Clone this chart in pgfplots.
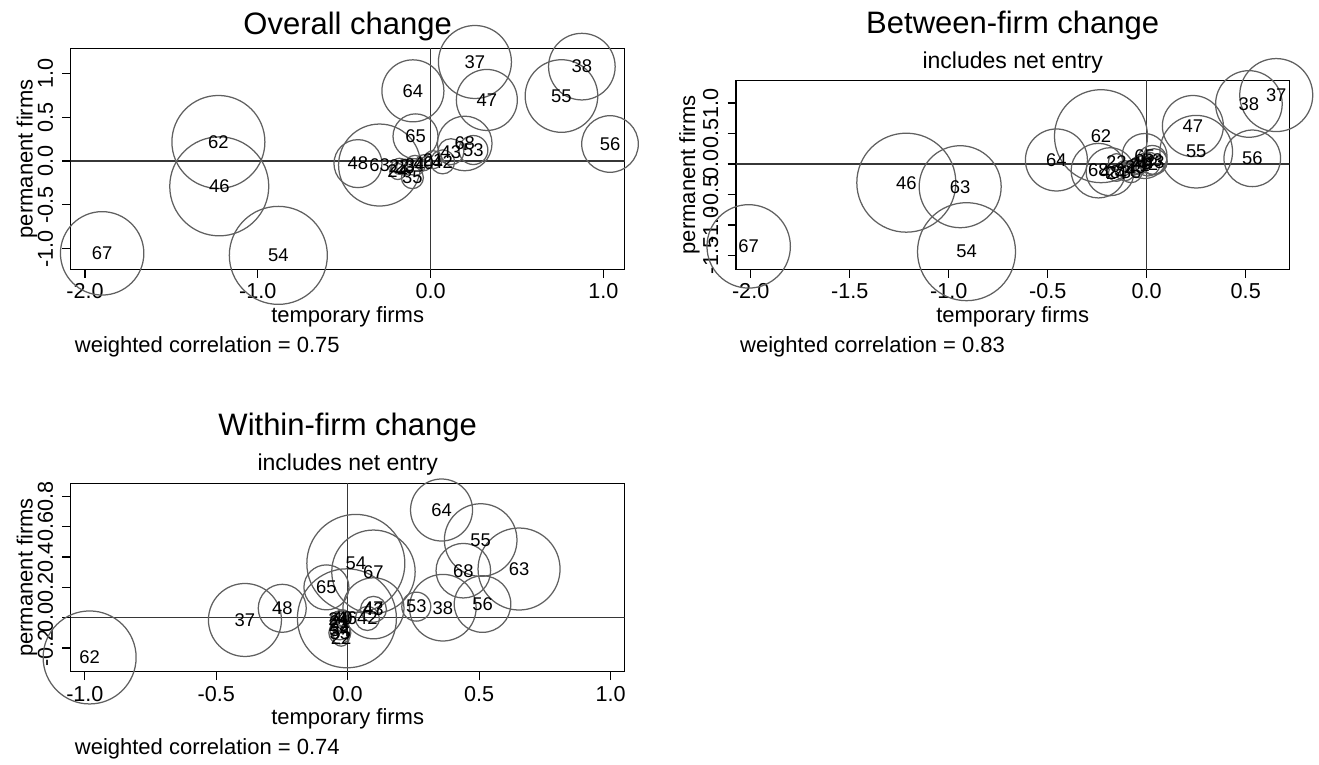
\documentclass[border=0pt]{standalone}
\usepackage{fontspec}
\setmainfont{Liberation Sans}
\usepackage{pgfplots}
\usepackage{pgfplotstable}
\pgfplotsset{compat=1.18}
\definecolor{circ}{RGB}{96,96,96}
\definecolor{zl}{RGB}{55,55,55}

% Overall change
\pgfplotstableread{
x y r lab
-1.901 -1.053 41.7 67
-1.228 0.217 46.5 62
-1.223 -0.289 49.5 46
-0.881 -1.076 49 54
-0.420 -0.030 24 48
-0.295 -0.046 41 63
-0.102 0.800 31 64
-0.087 0.281 22.5 65
0.257 1.129 36.5 37
0.326 0.696 30.5 47
0.876 1.076 33.3 38
0.758 0.741 36.3 55
1.039 0.194 28.3 56
0.198 0.200 27.3 68
0.248 0.125 14.5 53
0.118 0.106 13 43
0.015 0.015 9 21
-0.180 -0.060 8 22
-0.150 -0.070 8 23
-0.190 -0.120 8 24
-0.090 -0.050 10 34
-0.105 -0.190 11 35
-0.040 -0.020 8 40
0.070 -0.010 12 42
}\dataA

% Between-firm change
\pgfplotstableread{
x y r lab
-2.010 -1.350 41.7 67
-1.214 -0.306 49.5 46
-0.942 -0.372 41 63
-0.910 -1.437 49 54
-0.456 0.066 31 64
-0.231 0.456 46.5 62
-0.244 -0.109 27.3 68
0.233 0.623 30.5 47
0.250 0.202 36.3 55
0.516 0.984 33.3 38
0.654 1.130 36.5 37
0.533 0.093 28.3 56
-0.011 0.131 22.5 65
0.028 0.066 14.5 53
0.038 0.038 13 43
0.006 0.000 12 42
-0.025 0.010 8 40
-0.036 -0.016 9 21
-0.057 -0.044 8 23
-0.153 -0.153 8 24
-0.153 0.038 8 22
-0.110 -0.109 10 34
-0.079 -0.126 11 35
-0.185 -0.126 24 48
}\dataB

% Within-firm change
\pgfplotstableread{
x y r lab
-0.982 -0.262 46.5 62
-0.391 -0.015 36.5 37
-0.249 0.062 24 48
-0.081 0.200 22.5 65
0.031 0.358 49 54
0.098 0.303 41.7 67
0.357 0.710 31 64
0.506 0.512 36.3 55
0.440 0.310 27.3 68
0.652 0.321 41 63
0.261 0.073 14.5 53
0.362 0.066 33.3 38
0.513 0.090 28.3 56
0.098 0.062 30.5 47
0.098 0.055 13 43
-0.003 -0.004 49.5 46
-0.035 -0.010 8 24
-0.030 -0.030 9 21
-0.020 0.000 8 40
-0.035 -0.050 8 23
-0.030 -0.080 10 34
-0.030 -0.100 11 35
-0.025 -0.135 8 22
0.075 -0.005 12 42
}\dataC

\pgfplotsset{
  panel/.style={
    scale only axis,
    anchor=north west,
    axis line style={black, line width=1.2pt},
    tick align=outside,
    xtick pos=bottom, ytick pos=left,
    major tick length=8.5pt,
    every tick/.style={black, line width=1.2pt},
    tick label style={font=\fontsize{21.6}{24}\selectfont},
    typeset ticklabels with strut,
    /pgf/number format/fixed,
    /pgf/number format/fixed zerofill,
    /pgf/number format/precision=1,
    /pgf/number format/assume math mode=true,
    yticklabel style={rotate=90, anchor=south, inner sep=2pt},
    xticklabel style={inner sep=4pt},
    every axis x label/.style={at={([yshift=-53pt]axis description cs:0.5,0)}, anchor=base, font=\fontsize{22}{24}\selectfont},
    every axis y label/.style={at={([xshift=-38pt]axis description cs:0,0.5)}, rotate=90, anchor=base, font=\fontsize{22}{24}\selectfont},
    xlabel={temporary firms}, ylabel={permanent firms},
  },
  circles/.style={
    only marks, mark=o, scatter, point meta=\thisrow{r},
    color=circ, line width=1.25pt,
    mark options={line width=1.25pt},
    scatter/use mapped color={draw=circ},
    visualization depends on={\thisrow{r} \as \rr},
    scatter/@pre marker code/.append style={/tikz/mark size=\rr pt},
  },
  labs/.style={
    only marks, mark=o, mark size=0.1pt, mark options={draw opacity=0},
    point meta=explicit symbolic,
    nodes near coords,
    every node near coord/.style={anchor=center, inner sep=0pt, font=\fontsize{18.4}{20}\selectfont, text=black},
  },
}

\begin{document}
\begin{tikzpicture}
\useasboundingbox (0pt,0pt) rectangle (1319pt,-764pt);

% Panel 1
\begin{axis}[panel, at={(70.7pt,-48.3pt)}, width=554pt, height=221pt,
  xmin=-2.083, xmax=1.124, ymin=-1.235, ymax=1.285,
  xtick={-2,-1,0,1}, ytick={-1,-0.5,0,0.5,1}]
\draw[zl, line width=1.2pt] (axis cs:0,-10) -- (axis cs:0,10);
\draw[zl, line width=1.2pt] (axis cs:-10,0) -- (axis cs:10,0);
\addplot[circles] table[x=x, y=y] {\dataA};
\addplot[labs] table[x=x, y=y, meta=lab] {\dataA};
\end{axis}

% Panel 2
\begin{axis}[panel, at={(736pt,-80.3pt)}, width=553.3pt, height=189pt,
  xmin=-2.074, xmax=0.72, ymin=-1.726, ymax=1.372,
  xtick={-2,-1.5,-1,-0.5,0,0.5}, ytick={-1.5,-1,-0.5,0,0.5,1},
  every axis y label/.style={at={([xshift=-41pt]axis description cs:0,0.5)}, rotate=90, anchor=base, font=\fontsize{22}{24}\selectfont}]
\draw[zl, line width=1.2pt] (axis cs:0,-10) -- (axis cs:0,10);
\draw[zl, line width=1.2pt] (axis cs:-10,0) -- (axis cs:10,0);
\addplot[circles] table[x=x, y=y] {\dataB};
\addplot[labs] table[x=x, y=y, meta=lab] {\dataB};
\end{axis}

% Panel 3
\begin{axis}[panel, at={(70.7pt,-483.3pt)}, width=554pt, height=188.4pt,
  xmin=-1.054, xmax=1.054, ymin=-0.356, ymax=0.886,
  xtick={-1,-0.5,0,0.5,1}, ytick={-0.2,0,0.2,0.4,0.6,0.8}]
\draw[zl, line width=1.2pt] (axis cs:0,-10) -- (axis cs:0,10);
\draw[zl, line width=1.2pt] (axis cs:-10,0) -- (axis cs:10,0);
\addplot[circles] table[x=x, y=y] {\dataC};
\addplot[labs] table[x=x, y=y, meta=lab] {\dataC};
\end{axis}

% titles, subtitles, notes
\node[anchor=base, font=\fontsize{31}{34}\selectfont] at (347.7pt,-34.3pt) {Overall change};
\node[anchor=base, font=\fontsize{31}{34}\selectfont] at (1012.7pt,-33.3pt) {Between-firm change};
\node[anchor=base, font=\fontsize{23}{26}\selectfont] at (1012.7pt,-68.3pt) {includes net entry};
\node[anchor=base, font=\fontsize{31}{34}\selectfont] at (347.7pt,-435pt) {Within-firm change};
\node[anchor=base, font=\fontsize{23}{26}\selectfont] at (347.7pt,-470.7pt) {includes net entry};
\node[anchor=base west, inner sep=0pt, font=\fontsize{22}{24}\selectfont] at (74.7pt,-352pt) {weighted correlation = 0.75};
\node[anchor=base west, inner sep=0pt, font=\fontsize{22}{24}\selectfont] at (740pt,-352pt) {weighted correlation = 0.83};
\node[anchor=base west, inner sep=0pt, font=\fontsize{22}{24}\selectfont] at (74.7pt,-754pt) {weighted correlation = 0.74};
\end{tikzpicture}
\end{document}
